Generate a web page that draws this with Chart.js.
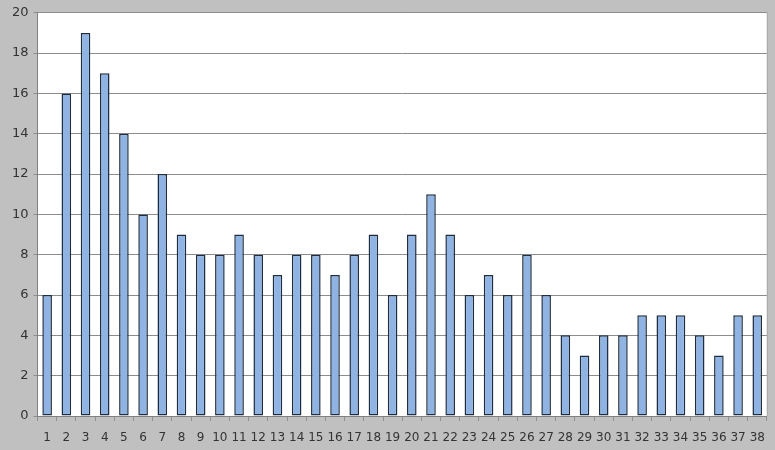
<!DOCTYPE html>
<html>
<head>
<meta charset="utf-8">
<script src="https://cdn.jsdelivr.net/npm/chart.js@4"></script>
<style>
  html, body { margin: 0; padding: 0; background: #c0c0c0; }
  #wrap { width: 775px; height: 450px; }
</style>
</head>
<body>
<div id="wrap"><canvas id="chart" width="775" height="450"></canvas></div>
<script>
const categories = ['1','2','3','4','5','6','7','8','9','10','11','12','13','14','15','16','17','18','19',
    '20','21','22','23','24','25','26','27','28','29','30','31','32','33','34','35','36','37','38'];
const values = [6,16,19,17,14,10,12,9,8,8,9,8,7,8,8,7,8,9,6,9,11,9,6,7,6,8,6,4,3,4,4,5,5,5,4,3,5,5];
const yMin = 0, yMax = 20, yStep = 2;

// grey page, white plot area
const plotBackground = {
    id: 'plotBackground',
    beforeDraw(chart) {
        const { ctx, chartArea: a } = chart;
        ctx.save();
        ctx.fillStyle = '#c0c0c0';
        ctx.fillRect(0, 0, chart.width, chart.height);
        ctx.fillStyle = '#ffffff';
        ctx.fillRect(a.left, a.top, a.right - a.left, a.bottom - a.top);
        ctx.strokeStyle = '#a8a8a8';
        ctx.lineWidth = 1;
        ctx.beginPath();
        ctx.moveTo(a.right + 0.5, a.top);
        ctx.lineTo(a.right + 0.5, a.bottom);
        ctx.stroke();
        ctx.restore();
    }
};

new Chart(document.getElementById('chart').getContext('2d'), {
    type: 'bar',
    data: {
        labels: categories,
        datasets: [{
            data: values,
            backgroundColor: '#8fb4e3',
            borderColor: '#1f2d3d',
            borderWidth: 1.5,
            borderSkipped: false,
            barPercentage: 0.5,
            categoryPercentage: 1
        }]
    },
    options: {
        responsive: false,
        animation: false,
        layout: { padding: { left: 7, right: 8, top: 10, bottom: 0 } },
        plugins: { legend: { display: false }, tooltip: { enabled: false } },
        scales: {
            x: {
                afterFit(scale) { scale.height = 34; },
                grid: { offset: true, drawOnChartArea: false, color: '#909090', tickLength: 5 },
                border: { color: '#808080' },
                ticks: { color: '#333333', font: { family: 'DejaVu Sans', size: 12 }, maxRotation: 0, autoSkip: false, padding: 10 }
            },
            y: {
                min: yMin,
                max: yMax,
                grid: { color: '#8c8c8c', tickLength: 4 },
                border: { color: '#808080' },
                ticks: { stepSize: yStep, color: '#333333', font: { family: 'DejaVu Sans', size: 13 }, padding: 5 }
            }
        }
    },
    plugins: [plotBackground]
});
</script>
</body>
</html>
